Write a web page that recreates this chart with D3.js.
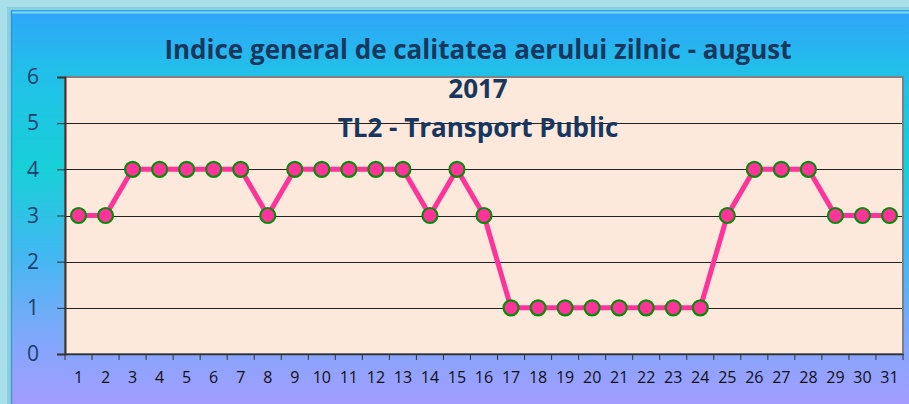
<!DOCTYPE html>
<html>
<head>
<meta charset="utf-8">
<script src="https://cdn.jsdelivr.net/npm/d3@7"></script>
<style>
  body { margin: 0; background: #a8dfe8; }
  svg { display: block; }
</style>
</head>
<body>
<svg id="chart" width="909" height="404"></svg>
<script>
var days = d3.range(1, 32).map(String)
var indexValues = [3, 3, 4, 4, 4, 4, 4, 3, 4, 4, 4, 4, 4, 3, 4, 3, 1, 1, 1, 1, 1, 1, 1, 1, 3, 4, 4, 4, 3, 3, 3]
var yTicks = [0, 1, 2, 3, 4, 5, 6]
var titleLines = ['Indice general de calitatea aerului zilnic - august', '2017', 'TL2 - Transport Public']

var svg = d3.select('#chart')
var width = 909
var height = 404
var plot = { left: 65, top: 77, right: 903, bottom: 354 }

var defs = svg.append('defs')
var grad = defs.append('linearGradient')
  .attr('id', 'panelGrad')
  .attr('x1', 0).attr('y1', 0).attr('x2', 0).attr('y2', 1)
var stops = [[0, '#30a4fa'], [0.15, '#22bfe9'], [0.4, '#18d0d8'], [0.62, '#42b8f0'], [0.8, '#78aafa'], [1, '#a49cff']]
stops.forEach(function (s) {
  grad.append('stop').attr('offset', s[0]).attr('stop-color', s[1])
})

// outer panel
svg.append('rect').attr('x', 0).attr('y', 0).attr('width', width).attr('height', height).attr('fill', '#a8dfe8')
svg.append('rect').attr('x', 7).attr('y', 7).attr('width', width - 7).attr('height', height - 7).attr('fill', '#8ccfdc')
svg.append('rect').attr('x', 11).attr('y', 10).attr('width', width - 11).attr('height', height - 10).attr('fill', 'url(#panelGrad)')
svg.append('line').attr('x1', 12).attr('x2', width).attr('y1', 12.5).attr('y2', 12.5)
  .attr('stroke', '#7fdcff').attr('stroke-width', 2)
svg.append('line').attr('x1', 11.5).attr('x2', 11.5).attr('y1', 11).attr('y2', height)
  .attr('stroke', '#2b8fd8').attr('stroke-width', 1.5).attr('opacity', 0.7)

var x = d3.scaleBand().domain(days).range([plot.left, plot.right])
var y = d3.scaleLinear().domain([0, 6]).range([plot.bottom, plot.top])

// plot area
svg.append('rect')
  .attr('x', plot.left).attr('y', plot.top)
  .attr('width', plot.right - plot.left).attr('height', plot.bottom - plot.top)
  .attr('fill', '#fde9db')
  .attr('stroke', '#808080').attr('stroke-width', 2)

// gridlines
svg.append('g').selectAll('line')
  .data(yTicks.filter(function (d) { return d > 0 && d < 6 }))
  .enter().append('line')
  .attr('x1', plot.left).attr('x2', plot.right - 1)
  .attr('y1', function (d) { return Math.round(y(d)) + 0.5 })
  .attr('y2', function (d) { return Math.round(y(d)) + 0.5 })
  .attr('stroke', '#222').attr('stroke-width', 1)

// y axis
var yAxis = svg.append('g')
  .attr('transform', 'translate(' + plot.left + ',0)')
  .call(d3.axisLeft(y).tickValues(yTicks).tickSize(8).tickPadding(16).tickFormat(d3.format('d')))
yAxis.select('.domain').attr('stroke', '#333').attr('stroke-width', 2)
yAxis.selectAll('.tick line').attr('stroke', '#333')
yAxis.selectAll('.tick text')
  .attr('fill', '#1a3f6e')
  .style('font-family', '"Open Sans", Lato, sans-serif')
  .style('font-size', '21px')
  .attr('text-anchor', 'middle')
  .attr('x', -32)

// x axis
var xAxis = svg.append('g')
  .attr('transform', 'translate(0,' + plot.bottom + ')')
  .call(d3.axisBottom(x).tickSize(0).tickPadding(18))
xAxis.select('.domain').attr('stroke', '#333').attr('stroke-width', 1.5)
xAxis.selectAll('.tick text')
  .attr('fill', '#111')
  .style('font-family', '"Open Sans", Lato, sans-serif')
  .style('font-size', '16px')
xAxis.append('g').selectAll('line')
  .data(days.concat(['end']))
  .enter().append('line')
  .attr('x1', function (d) { return d === 'end' ? plot.right : x(d) })
  .attr('x2', function (d) { return d === 'end' ? plot.right : x(d) })
  .attr('y1', 0).attr('y2', 6)
  .attr('stroke', '#333')

// line + markers
var line = d3.line()
  .x(function (d, i) { return x(days[i]) + x.bandwidth() / 2 })
  .y(function (d) { return y(d) })

svg.append('path')
  .datum(indexValues)
  .attr('d', line)
  .attr('fill', 'none')
  .attr('stroke', '#ff3399')
  .attr('stroke-width', 5)
  .attr('stroke-linejoin', 'round')

svg.append('g').selectAll('circle')
  .data(indexValues)
  .enter().append('circle')
  .attr('cx', function (d, i) { return x(days[i]) + x.bandwidth() / 2 })
  .attr('cy', function (d) { return y(d) })
  .attr('r', 7.5)
  .attr('fill', '#ff3399')
  .attr('stroke', '#0a8a0a')
  .attr('stroke-width', 2.2)

// title
svg.append('text')
  .attr('x', 478)
  .attr('text-anchor', 'middle')
  .attr('fill', '#17375e')
  .style('font-family', '"Open Sans", Lato, sans-serif')
  .style('font-weight', 'bold')
  .style('font-size', '26px')
  .selectAll('tspan')
  .data(titleLines)
  .enter().append('tspan')
  .attr('x', 478)
  .attr('y', function (d, i) { return 59 + i * 39 })
  .text(function (d) { return d })
</script>
</body>
</html>
